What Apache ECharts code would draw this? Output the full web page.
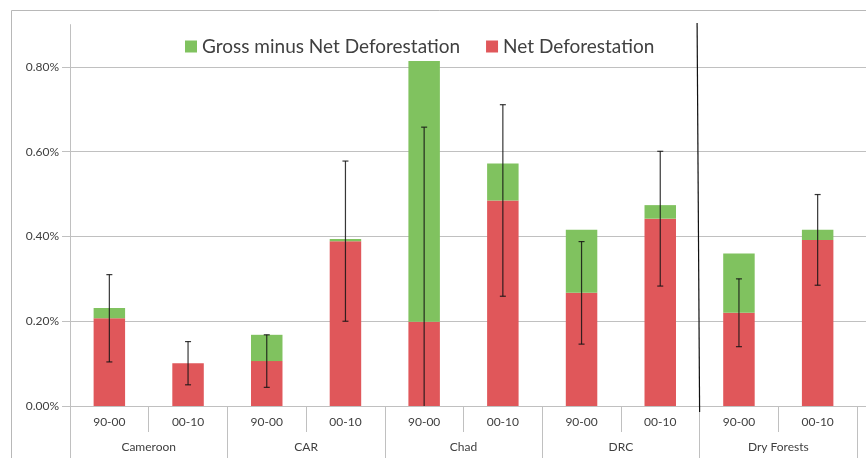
<!DOCTYPE html>
<html>
<head>
<meta charset="utf-8">
<script src="https://cdn.jsdelivr.net/npm/echarts@6/dist/echarts.min.js"></script>
<style>
  html, body { margin: 0; padding: 0; background: #fff; }
  #chart { width: 866px; height: 458px; }
</style>
</head>
<body>
<div id="chart"></div>
<script>
// Periods shown under each country / forest group
const periods = ['90-00', '00-10', '90-00', '00-10', '90-00', '00-10', '90-00', '00-10', '90-00', '00-10'];
const groups = ['Cameroon', 'CAR', 'Chad', 'DRC', 'Dry Forests'];

// Annual deforestation rates (%)
const netDeforestation = [0.207, 0.101, 0.106, 0.389, 0.199, 0.485, 0.267, 0.442, 0.220, 0.392];
const grossMinusNet = [0.024, 0.000, 0.062, 0.005, 0.615, 0.087, 0.149, 0.032, 0.140, 0.024];

// Error half-widths around the net rate (%)
const netError = [0.103, 0.051, 0.062, 0.189, 0.459, 0.226, 0.121, 0.159, 0.080, 0.107];

const yTicks = { min: 0, max: 0.9, interval: 0.2 };

const RED = '#E0575A';
const GREEN = '#80C25F';
const TEXT = '#404040';
const GRID = '#C0C0C0';
const FONT = 'Lato, "Open Sans", sans-serif';

const errorData = netDeforestation.map((v, i) => {
  const lo = v - netError[i];
  return [i, Math.max(0, lo), v + netError[i], lo > 0 ? 1 : 0];
});

const chart = echarts.init(document.getElementById('chart'), null, { renderer: 'canvas' });

const option = {
  backgroundColor: '#fff',
  animation: false,
  textStyle: { fontFamily: FONT },
  legend: {
    data: ['Gross minus Net Deforestation', 'Net Deforestation'],
    left: 185,
    top: 37,
    padding: 0,
    itemWidth: 12,
    itemHeight: 12,
    itemGap: 26,
    icon: 'rect',
    textStyle: { fontSize: 19, color: TEXT, fontFamily: FONT },
    backgroundColor: '#fff'
  },
  grid: [
    { left: 70, right: 9, top: 24.6, bottom: 52, containLabel: false },
    { left: 62, right: 0, top: 24.6, bottom: 52, containLabel: false }
  ],
  xAxis: [
    {
      type: 'category',
      gridIndex: 0,
      data: periods,
      position: 'bottom',
      axisLine: { show: true, lineStyle: { color: GRID, width: 1 } },
      axisTick: { show: true, alignWithLabel: false, length: 26, lineStyle: { color: GRID } },
      axisLabel: { color: TEXT, fontSize: 12, fontFamily: FONT, margin: 10, interval: 0 },
      splitLine: { show: false }
    },
    {
      type: 'category',
      gridIndex: 0,
      data: groups,
      position: 'bottom',
      offset: 0,
      axisLine: { show: false },
      axisTick: { show: true, length: 60, lineStyle: { color: GRID } },
      axisLabel: { color: TEXT, fontSize: 12, fontFamily: FONT, margin: 35, interval: 0 },
      splitLine: { show: false }
    },
    {
      type: 'value',
      gridIndex: 1,
      show: false
    }
  ],
  yAxis: [
    {
      type: 'value',
      gridIndex: 0,
      min: yTicks.min,
      max: yTicks.max,
      interval: yTicks.interval,
      axisLine: { show: true, lineStyle: { color: GRID, width: 1 } },
      axisTick: { show: false },
      splitLine: { show: false },
      axisLabel: {
        color: TEXT,
        fontSize: 12,
        fontFamily: FONT,
        margin: 11,
        showMaxLabel: false,
        formatter: v => v.toFixed(2) + '%'
      }
    },
    {
      type: 'value',
      gridIndex: 1,
      min: yTicks.min,
      max: yTicks.max,
      interval: yTicks.interval,
      axisLine: { show: false },
      axisTick: { show: false },
      axisLabel: { show: false },
      splitLine: { show: true, showMaxLine: false, lineStyle: { color: GRID, width: 1 } }
    }
  ],
  series: [
    {
      name: 'Net Deforestation',
      type: 'bar',
      stack: 'rate',
      xAxisIndex: 0,
      yAxisIndex: 0,
      barWidth: '40%',
      itemStyle: { color: RED },
      data: netDeforestation
    },
    {
      name: 'Gross minus Net Deforestation',
      type: 'bar',
      stack: 'rate',
      xAxisIndex: 0,
      yAxisIndex: 0,
      barWidth: '40%',
      itemStyle: { color: GREEN },
      data: grossMinusNet
    },
    {
      name: 'error',
      type: 'custom',
      xAxisIndex: 0,
      yAxisIndex: 0,
      z: 10,
      data: errorData,
      renderItem: function (params, api) {
        const x = api.coord([api.value(0), 0])[0];
        const yLo = api.coord([api.value(0), api.value(1)])[1];
        const yHi = api.coord([api.value(0), api.value(2)])[1];
        const cap = 3;
        const style = { stroke: 'rgba(20,20,20,0.85)', lineWidth: 1.2 };
        const children = [
          { type: 'line', shape: { x1: x, y1: yLo, x2: x, y2: yHi }, style: style },
          { type: 'line', shape: { x1: x - cap, y1: yHi, x2: x + cap, y2: yHi }, style: style }
        ];
        if (api.value(3) === 1) {
          children.push({ type: 'line', shape: { x1: x - cap, y1: yLo, x2: x + cap, y2: yLo }, style: style });
        }
        return { type: 'group', children: children };
      }
    }
  ]
};

chart.setOption(option);

// Frame around the chart and the separator before the dry-forest group
const xA = chart.convertToPixel({ xAxisIndex: 0 }, 7);
const xB = chart.convertToPixel({ xAxisIndex: 0 }, 8);
const sepX = (xA + xB) / 2;

chart.setOption({
  graphic: [
    {
      type: 'rect',
      z: -1,
      silent: true,
      shape: { x: 11.5, y: 10.5, width: 900, height: 500 },
      style: { fill: 'none', stroke: '#B8B8B8', lineWidth: 1 }
    },
    {
      type: 'line',
      z: 100,
      silent: true,
      shape: { x1: sepX - 2.5, y1: 23, x2: sepX, y2: 412 },
      style: { stroke: '#111', lineWidth: 1.2 }
    }
  ]
});
</script>
</body>
</html>
